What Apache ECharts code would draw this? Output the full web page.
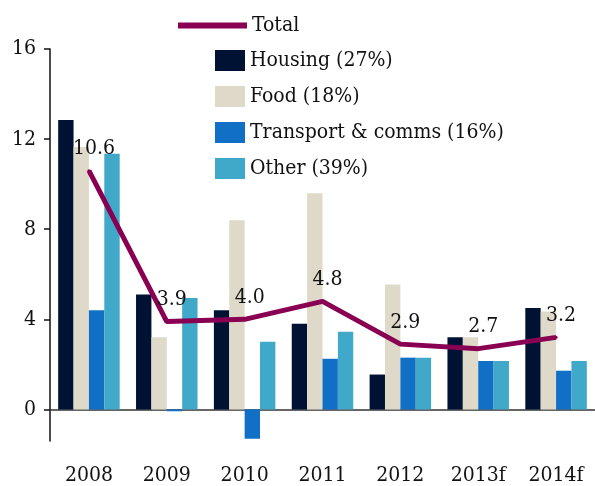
<!DOCTYPE html>
<html>
<head>
<meta charset="utf-8">
<script src="https://cdn.jsdelivr.net/npm/echarts@6/dist/echarts.min.js"></script>
<style>
  html, body { margin: 0; padding: 0; background: #fff; }
  #chart { width: 595px; height: 486px; }
</style>
</head>
<body>
<div id="chart"></div>
<script>
const years = ['2008', '2009', '2010', '2011', '2012', '2013f', '2014f'];
const housing = [12.85, 5.1, 4.4, 3.8, 1.55, 3.2, 4.5];
const food = [11.65, 3.2, 8.4, 9.6, 5.55, 3.2, 4.35];
const transport = [4.4, -0.08, -1.3, 2.25, 2.3, 2.15, 1.72];
const other = [11.35, 4.95, 3.0, 3.45, 2.3, 2.15, 2.15];
const total = [10.6, 3.9, 4.0, 4.8, 2.9, 2.7, 3.2];
const yTicks = [0, 4, 8, 12, 16];

const FONT = "'DejaVu Serif Condensed', 'DejaVu Serif', serif";
const FS = 21;
const chart = echarts.init(document.getElementById('chart'));

function barSeries(name, data, color) {
  return {
    name: name,
    type: 'bar',
    data: data,
    barGap: '0%',
    barCategoryGap: '21%',
    itemStyle: { color: color },
    animation: false
  };
}

const option = {
  backgroundColor: '#fff',
  textStyle: { fontFamily: FONT },
  grid: { left: 50, right: -6, top: 49, bottom: 43 },
  legend: [
    {
      data: [{ name: 'Total', icon: 'rect' }],
      left: 173, top: 10,
      itemWidth: 69, itemHeight: 6,
      itemGap: 10,
      textStyle: { fontFamily: FONT, fontSize: FS, color: '#111' }
    },
    {
      data: ['Housing (27%)', 'Food (18%)', 'Transport & comms (16%)', 'Other (39%)'],
      icon: 'rect',
      orient: 'vertical',
      left: 210, top: 45,
      itemWidth: 30, itemHeight: 21,
      itemGap: 15,
      textStyle: { fontFamily: FONT, fontSize: FS, color: '#111' }
    }
  ],
  xAxis: [
    {
      type: 'category',
      data: years,
      position: 'bottom',
      axisLine: { show: false, onZero: false },
      axisTick: { show: false },
      axisLabel: { margin: 24, fontFamily: FONT, fontSize: FS, color: '#111' }
    },
    {
      type: 'category',
      data: years,
      position: 'bottom',
      axisLine: { onZero: true, lineStyle: { color: '#333', width: 1.5 } },
      axisTick: { show: false },
      axisLabel: { show: false }
    }
  ],
  yAxis: {
    type: 'value',
    min: -1.4,
    max: 16,
    splitLine: { show: false },
    axisLine: { show: true, lineStyle: { color: '#111', width: 1.5 } },
    axisTick: { show: true, length: 6, customValues: yTicks, lineStyle: { color: '#111', width: 1.5 } },
    axisLabel: { customValues: yTicks, margin: 14, fontFamily: FONT, fontSize: FS, color: '#111' }
  },
  series: [
    barSeries('Housing (27%)', housing, '#001233'),
    barSeries('Food (18%)', food, '#DED9C8'),
    barSeries('Transport & comms (16%)', transport, '#1170C6'),
    barSeries('Other (39%)', other, '#40A8C8'),
    {
      name: 'Total',
      type: 'line',
      data: total,
      symbol: 'circle',
      symbolSize: 3,
      showSymbol: true,
      z: 5,
      lineStyle: { color: '#890053', width: 5 },
      itemStyle: { color: '#890053' },
      label: {
        show: true,
        position: 'top',
        distance: 12,
        offset: [5, 2],
        formatter: p => p.value.toFixed(1),
        fontFamily: FONT,
        fontSize: FS,
        color: '#111'
      },
      animation: false
    }
  ]
};

chart.setOption(option);
</script>
</body>
</html>
